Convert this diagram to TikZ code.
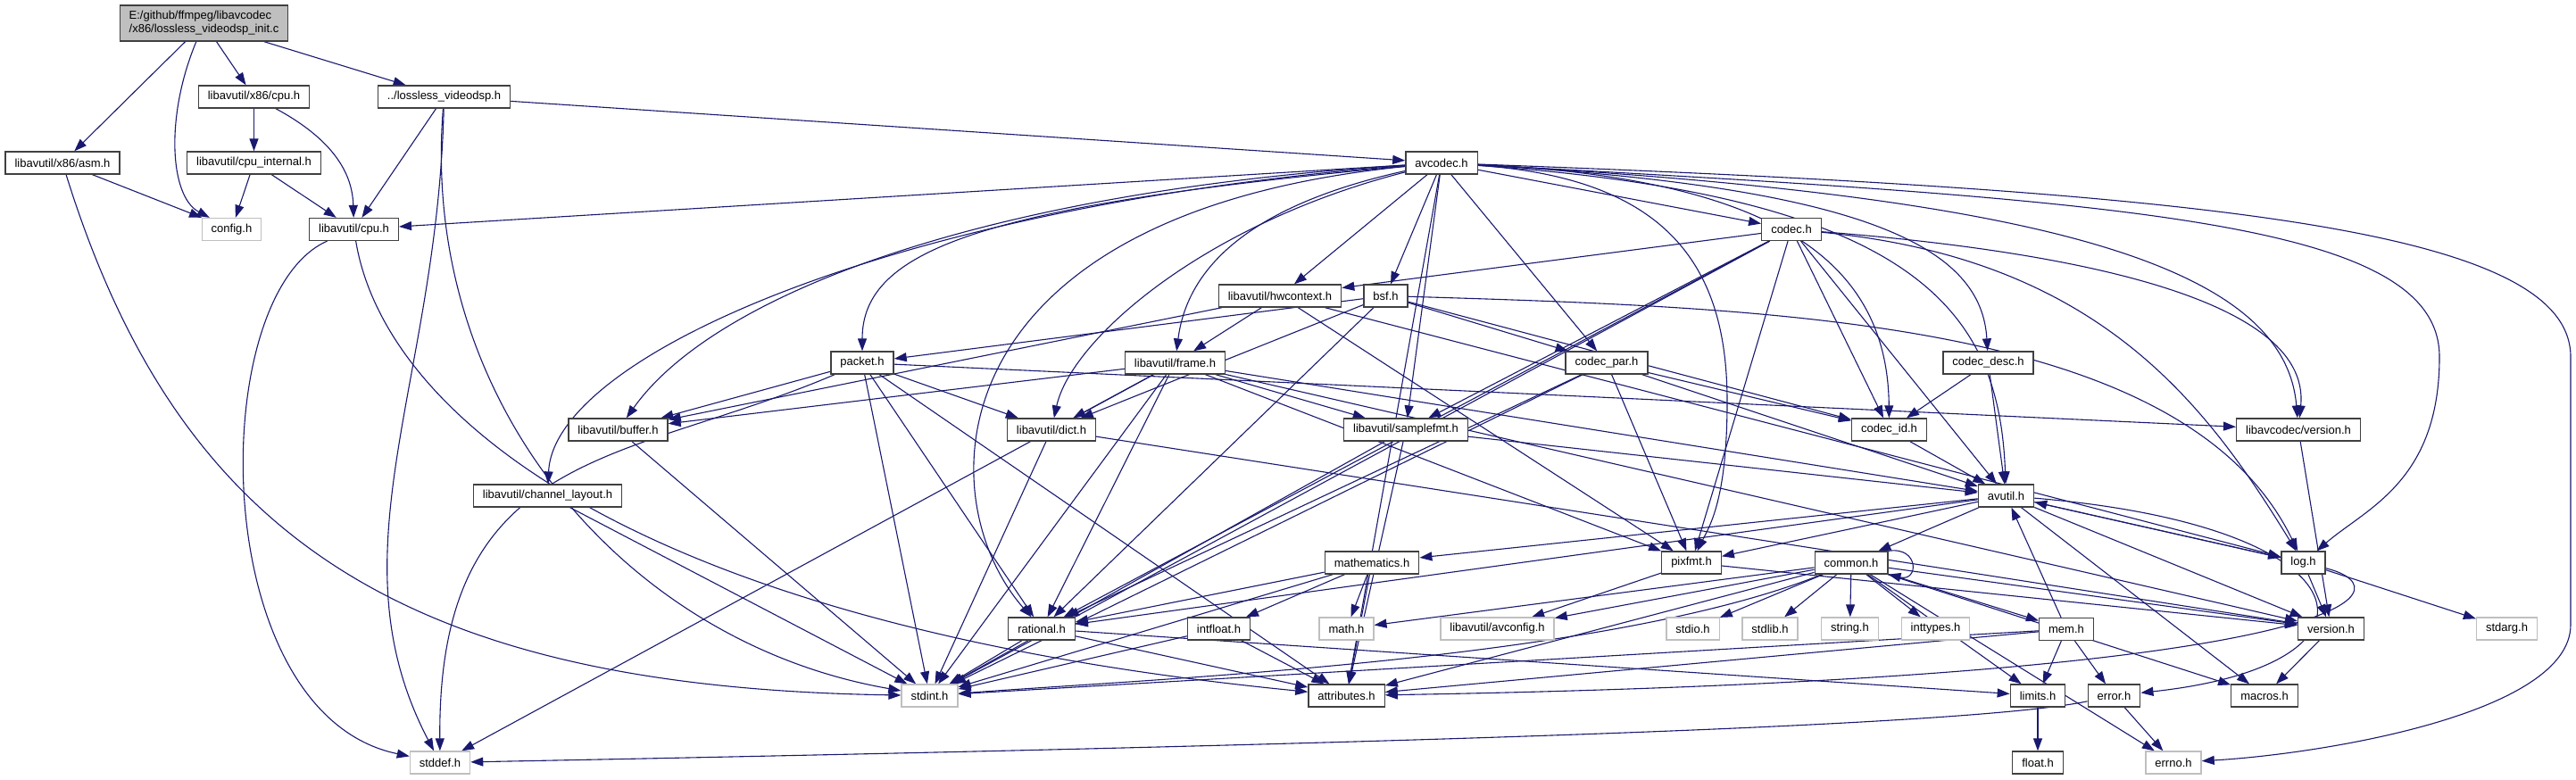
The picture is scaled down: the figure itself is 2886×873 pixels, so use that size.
\documentclass[tikz,border=0pt]{standalone}
\usepackage{fontspec}
\setmainfont{Liberation Sans}
\usetikzlibrary{arrows.meta,backgrounds}
\definecolor{edgeblue}{HTML}{191970}
\definecolor{boxgray}{HTML}{BFBFBF}
\definecolor{boxline}{HTML}{404040}

\begin{document}
\begin{tikzpicture}[x=1pt, y=-1pt,
  font=\fontsize{13}{15}\selectfont,
  hdr/.style={draw=boxline, line width=1.3pt, fill=white, inner xsep=10.5pt,
              inner ysep=0pt, minimum height=25pt},
  sys/.style={hdr, draw=boxgray},
  rootbox/.style={hdr, fill=boxgray, align=left, minimum height=40pt},
  dep/.style={-{Triangle[length=14pt,width=10pt]}, draw=edgeblue, line width=1.1pt}]

\useasboundingbox (0,0) rectangle (2886,873);

\node[rootbox] (root) at (228.5,26) {E:/github/ffmpeg/libavcodec\\/x86/lossless\_videodsp\_init.c};
\node[hdr] (x86cpu)    at (284.5,108.5)  {libavutil/x86/cpu.h};
\node[hdr] (lossless)  at (497.5,108.5)  {../lossless\_videodsp.h};
\node[hdr] (asm)       at (70,182.5)     {libavutil/x86/asm.h};
\node[hdr] (cpuint)    at (284.5,182.5)  {libavutil/cpu\_internal.h};
\node[sys] (config)    at (259.5,257)    {config.h};
\node[hdr] (cpu)       at (396.5,257)    {libavutil/cpu.h};
\node[hdr] (avcodec)   at (1615,182.5)   {avcodec.h};
\node[hdr] (codec)     at (2007,257)     {codec.h};
\node[hdr] (hwctx)     at (1434,331.5)   {libavutil/hwcontext.h};
\node[hdr] (bsf)       at (1552.5,331.5) {bsf.h};
\node[hdr] (packet)    at (966,406.5)    {packet.h};
\node[hdr] (frame)     at (1316.5,406.5) {libavutil/frame.h};
\node[hdr] (codecpar)  at (1800,406.5)   {codec\_par.h};
\node[hdr] (codecdesc) at (2227.5,406.5) {codec\_desc.h};
\node[hdr] (buffer)    at (692.5,481.5)  {libavutil/buffer.h};
\node[hdr] (dict)      at (1178,481.5)   {libavutil/dict.h};
\node[hdr] (samplefmt) at (1575,481.5)   {libavutil/samplefmt.h};
\node[hdr] (codecid)   at (2116.5,481.5) {codec\_id.h};
\node[hdr] (lavcver)   at (2575,481.5)   {libavcodec/version.h};
\node[hdr] (chlayout)  at (613.5,555.5)  {libavutil/channel\_layout.h};
\node[hdr] (avutil)    at (2247.5,555.5) {avutil.h};
\node[hdr] (mathem)    at (1537,630.5)   {mathematics.h};
\node[hdr] (pixfmt)    at (1895,630.5)   {pixfmt.h};
\node[hdr] (common)    at (2074,630.5)   {common.h};
\node[hdr] (log)       at (2580.5,630.5) {log.h};
\node[hdr] (rational)  at (1167,704.5)   {rational.h};
\node[hdr] (intfloat)  at (1365.5,704.5) {intfloat.h};
\node[sys] (mathh)     at (1508.5,704.5) {math.h};
\node[sys] (avconfig)  at (1677.5,704.5) {libavutil/avconfig.h};
\node[sys] (stdio)     at (1896.5,704.5) {stdio.h};
\node[sys] (stdlib)    at (1983,704.5)   {stdlib.h};
\node[sys] (string)    at (2072.5,704.5) {string.h};
\node[sys] (inttypes)  at (2168.5,704.5) {inttypes.h};
\node[hdr] (mem)       at (2315,705)     {mem.h};
\node[hdr] (version)   at (2611.5,704.5) {version.h};
\node[sys] (stdarg)    at (2808.5,704.5) {stdarg.h};
\node[sys] (stdint)    at (1041.5,779.5) {stdint.h};
\node[hdr] (attrib)    at (1508.5,779.5) {attributes.h};
\node[hdr] (limits)    at (2283,779.5)   {limits.h};
\node[hdr] (error)     at (2368.5,779.5) {error.h};
\node[hdr] (macros)    at (2537,779.5)   {macros.h};
\node[sys] (stddef)    at (493,854.5)    {stddef.h};
\node[hdr] (float)     at (2283,854.5)   {float.h};
\node[sys] (errno)     at (2435,854.5)   {errno.h};

\begin{scope}[on background layer]
\draw[dep] (root) -- (asm);
\draw[dep] (root) .. controls (185,130) and (190,220) .. (config);
\draw[dep] (root) -- (x86cpu);
\draw[dep] (root) -- (lossless);
\draw[dep] (x86cpu) -- (cpuint);
\draw[dep] (x86cpu) .. controls (380,160) and (395,200) .. (cpu);
\draw[dep] (cpuint) -- (config);
\draw[dep] (cpuint) -- (cpu);
\draw[dep] (asm) -- (config);
\draw[dep] (asm) .. controls (200,600) and (450,770) .. (stdint);
\draw[dep] (cpu) .. controls (230,330) and (230,800) .. (stddef);
\draw[dep] (cpu) .. controls (430,460) and (700,700) .. (attrib);
\draw[dep] (lossless) -- (avcodec);
\draw[dep] (lossless) -- (cpu);
\draw[dep] (lossless) .. controls (490,430) and (370,620) .. (stddef);
\draw[dep] (lossless) .. controls (470,450) and (700,720) .. (stdint);

\draw[dep] (avcodec) .. controls (2500,215) and (2880,260) .. (2880,400) -- (2880,700)
      .. controls (2880,800) and (2600,845) .. (errno);
\draw[dep] (avcodec) .. controls (2400,225) and (2733,250) .. (2733,400)
      .. controls (2733,540) and (2650,570) .. (log);
\draw[dep] (avcodec) .. controls (2300,220) and (2560,300) .. (lavcver);
\draw[dep] (avcodec) .. controls (2150,220) and (2240,350) .. (avutil);
\draw[dep] (avcodec) .. controls (2100,210) and (2220,280) .. (codecdesc);
\draw[dep] (avcodec) -- (codec);
\draw[dep] (avcodec) .. controls (2000,200) and (2115,300) .. (codecid);
\draw[dep] (avcodec) -- (codecpar);
\draw[dep] (avcodec) .. controls (1870,200) and (1935,300) .. (1935,450)
      .. controls (1935,560) and (1915,590) .. (pixfmt);
\draw[dep] (avcodec) -- (attrib);
\draw[dep] (avcodec) -- (samplefmt);
\draw[dep] (avcodec) -- (bsf);
\draw[dep] (avcodec) -- (hwctx);
\draw[dep] (avcodec) .. controls (1400,230) and (1330,300) .. (frame);
\draw[dep] (avcodec) .. controls (1350,250) and (1200,380) .. (dict);
\draw[dep] (avcodec) .. controls (1040,240) and (1040,560) .. (rational);
\draw[dep] (avcodec) .. controls (1100,230) and (966,280) .. (packet);
\draw[dep] (avcodec) .. controls (1100,215) and (800,330) .. (buffer);
\draw[dep] (avcodec) .. controls (1000,230) and (620,400) .. (chlayout);
\draw[dep] (avcodec) -- (cpu);

\draw[dep] (bsf) -- (dict);
\draw[dep] (bsf) .. controls (2000,345) and (2450,360) .. (log);
\draw[dep] (bsf) -- (rational);
\draw[dep] (bsf) -- (codecid);
\draw[dep] (bsf) -- (codecpar);
\draw[dep] (bsf) -- (packet);

\draw[dep] (codec) -- (stdint);
\draw[dep] (codec) -- (avutil);
\draw[dep] (codec) -- (hwctx);
\draw[dep] (codec) .. controls (2350,290) and (2470,450) .. (log);
\draw[dep] (codec) -- (pixfmt);
\draw[dep] (codec) -- (rational);
\draw[dep] (codec) -- (samplefmt);
\draw[dep] (codec) -- (codecid);
\draw[dep] (codec) .. controls (2300,280) and (2590,330) .. (lavcver);

\draw[dep] (codecdesc) -- (avutil);
\draw[dep] (codecdesc) -- (codecid);
\draw[dep] (codecid) -- (avutil);

\draw[dep] (codecpar) -- (stdint);
\draw[dep] (codecpar) -- (avutil);
\draw[dep] (codecpar) -- (rational);
\draw[dep] (codecpar) -- (pixfmt);
\draw[dep] (codecpar) -- (codecid);

\draw[dep] (packet) .. controls (700,520) and (490,500) .. (stddef);
\draw[dep] (packet) -- (stdint);
\draw[dep] (packet) -- (attrib);
\draw[dep] (packet) -- (buffer);
\draw[dep] (packet) -- (dict);
\draw[dep] (packet) -- (rational);
\draw[dep] (packet) -- (lavcver);
\draw[dep] (lavcver) -- (version);

\draw[dep] (hwctx) -- (buffer);
\draw[dep] (hwctx) -- (frame);
\draw[dep] (hwctx) -- (log);
\draw[dep] (hwctx) -- (pixfmt);

\draw[dep] (frame) -- (stddef);
\draw[dep] (frame) -- (stdint);
\draw[dep] (frame) -- (avutil);
\draw[dep] (frame) -- (buffer);
\draw[dep] (frame) -- (dict);
\draw[dep] (frame) -- (rational);
\draw[dep] (frame) -- (samplefmt);
\draw[dep] (frame) -- (pixfmt);
\draw[dep] (frame) -- (version);

\draw[dep] (buffer) -- (stdint);
\draw[dep] (dict) -- (stdint);
\draw[dep] (dict) -- (version);
\draw[dep] (samplefmt) -- (stdint);
\draw[dep] (samplefmt) -- (avutil);
\draw[dep] (samplefmt) -- (attrib);
\draw[dep] (chlayout) -- (stdint);
\draw[dep] (rational) -- (stdint);
\draw[dep] (rational) -- (limits);
\draw[dep] (rational) -- (attrib);

\draw[dep] (avutil) -- (common);
\draw[dep] (avutil) .. controls (2660,590) and (2690,745) .. (error);
\draw[dep] (avutil) -- (rational);
\draw[dep] (avutil) -- (version);
\draw[dep] (avutil) -- (macros);
\draw[dep] (avutil) -- (mathem);
\draw[dep] (avutil) -- (log);
\draw[dep] (avutil) -- (pixfmt);

\draw[dep] (common) -- (errno);
\draw[dep] (common) -- (inttypes);
\draw[dep] (common) -- (limits);
\draw[dep] (common) -- (mathh);
\draw[dep] (common) .. controls (1800,740) and (1300,760) .. (stdint);
\draw[dep] (common) -- (stdio);
\draw[dep] (common) -- (stdlib);
\draw[dep] (common) -- (string);
\draw[dep] (common) -- (attrib);
\draw[dep] (common) -- (macros);
\draw[dep] (common) -- (version);
\draw[dep] (common) -- (avconfig);
\draw[dep] (common) -- (mem);
\draw[dep] (common.north east) .. controls (2150,612) and (2150,652) .. (common.south east);

\draw[dep] (mathem) -- (stdint);
\draw[dep] (mathem) -- (mathh);
\draw[dep] (mathem) -- (attrib);
\draw[dep] (mathem) -- (rational);
\draw[dep] (mathem) -- (intfloat);
\draw[dep] (intfloat) -- (stdint);
\draw[dep] (intfloat) -- (attrib);

\draw[dep] (mem) -- (limits);
\draw[dep] (mem) -- (stdint);
\draw[dep] (mem) -- (attrib);
\draw[dep] (mem) -- (error);
\draw[dep] (mem) -- (avutil);
\draw[dep] (error) -- (errno);
\draw[dep] (error) .. controls (2200,815) and (1500,835) .. (stddef);

\draw[dep] (log) -- (stdarg);
\draw[dep] (log) -- (avutil);
\draw[dep] (log) .. controls (2700,660) and (2650,760) .. (attrib);
\draw[dep] (log) -- (version);
\draw[dep] (version) -- (macros);
\draw[dep] (pixfmt) -- (avconfig);
\draw[dep] (pixfmt) -- (version);
\draw[dep] (limits) -- (float);
\end{scope}
\end{tikzpicture}
\end{document}
